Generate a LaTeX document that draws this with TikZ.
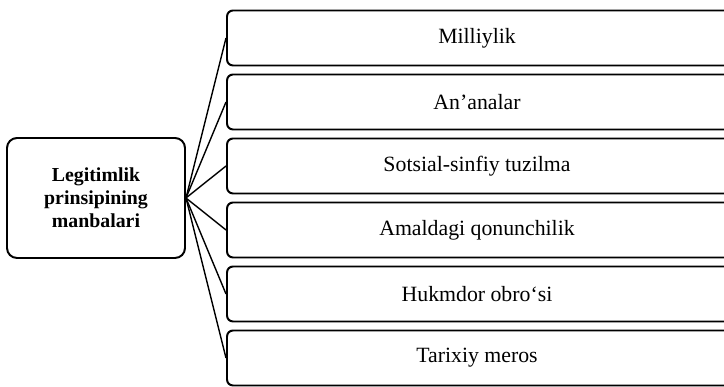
\documentclass[tikz,border=0pt]{standalone}
\usepackage{fontspec}
\setmainfont{Liberation Serif}
\usetikzlibrary{calc}

\begin{document}
\begin{tikzpicture}[
  SrcBox/.style={draw,line width=1.4pt,rounded corners=0.25cm,minimum width=4.45cm,minimum height=3cm,align=center,inner sep=0pt,font=\fontsize{14.1}{16.3}\selectfont\bfseries},
  ItemBox/.style={draw,line width=1.4pt,rounded corners=0.15cm,minimum width=13cm,minimum height=1.375cm,inner sep=0pt,font=\fontsize{15.5}{18}\selectfont,execute at begin node=\hspace*{-0.5cm}},
  Link/.style={line width=1pt}]
\useasboundingbox (0,0) rectangle (18.1,9.675);
\clip (0,0) rectangle (18.1,9.675);

% The source of legitimacy on the left.
\node[SrcBox] (Src) at (2.4,4.725) {Legitimlik\\prinsipining\\manbalari};

% Six sources, one below the other (cut off at the right edge).
\node[ItemBox] (Mil) at (12.175,8.725) {Milliylik};
\node[ItemBox] (Ana) at (12.175,7.125) {An’analar};
\node[ItemBox] (Sot) at (12.175,5.525) {Sotsial-sinfiy tuzilma};
\node[ItemBox] (Ama) at (12.175,3.925) {Amaldagi qonunchilik};
\node[ItemBox] (Huk) at (12.175,2.325) {Hukmdor obro‘si};
\node[ItemBox] (Tar) at (12.175,0.725) {Tarixiy meros};

\draw[Link] (Src.east) -- (Mil.west);
\draw[Link] (Src.east) -- (Ana.west);
\draw[Link] (Src.east) -- (Sot.west);
\draw[Link] (Src.east) -- (Ama.west);
\draw[Link] (Src.east) -- (Huk.west);
\draw[Link] (Src.east) -- (Tar.west);

\end{tikzpicture}
\end{document}
